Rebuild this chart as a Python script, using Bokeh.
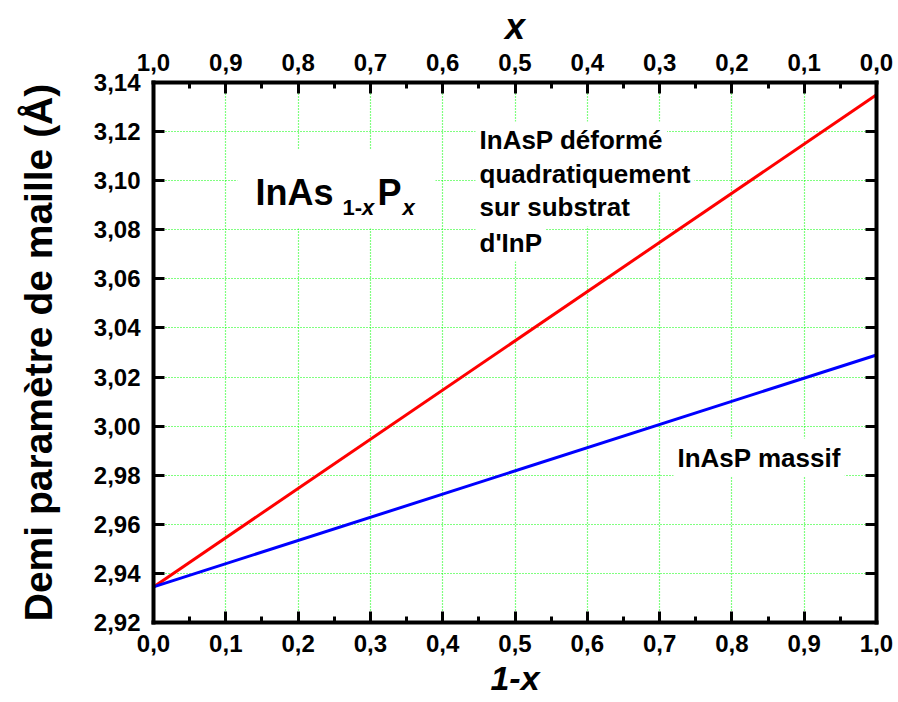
from bokeh.plotting import figure
from bokeh.models import Range1d, LinearAxis, FixedTicker, Label, BoxAnnotation
from bokeh.embed import file_html
from bokeh.resources import INLINE

# ---------------- data ----------------
one_minus_x = [0.0, 1.0]
a_strained = [2.9345, 3.1350]   # InAsP déformé quadratiquement sur substrat d'InP
a_bulk = [2.9345, 3.0290]       # InAsP massif

x_ticks = [0.0, 0.1, 0.2, 0.3, 0.4, 0.5, 0.6, 0.7, 0.8, 0.9, 1.0]
x_minor_ticks = [0.05, 0.15, 0.25, 0.35, 0.45, 0.55, 0.65, 0.75, 0.85, 0.95]
x_tick_labels = ["0,0", "0,1", "0,2", "0,3", "0,4", "0,5", "0,6", "0,7", "0,8", "0,9", "1,0"]
y_ticks = [2.92, 2.94, 2.96, 2.98, 3.00, 3.02, 3.04, 3.06, 3.08, 3.10, 3.12, 3.14]
y_tick_labels = ["2,92", "2,94", "2,96", "2,98", "3,00", "3,02", "3,04", "3,06", "3,08", "3,10", "3,12", "3,14"]

FONT = "Liberation Sans"
GRID_COLOR = "#00FF00"

p = figure(width=898, height=702,
           x_range=Range1d(0, 1), y_range=Range1d(2.92, 3.14),
           output_backend="svg", toolbar_location=None,
           min_border_left=153, min_border_right=22,
           min_border_top=82, min_border_bottom=80)
p.outline_line_color = None
p.background_fill_color = "white"
p.border_fill_color = "white"

x_over = {t: s for t, s in zip(x_ticks, x_tick_labels)}
y_over = {t: s for t, s in zip(y_ticks, y_tick_labels)}


def style_axis(ax):
    ax.axis_line_width = 4
    ax.axis_line_color = "black"
    ax.axis_line_cap = "square"
    ax.major_tick_line_width = 3
    ax.minor_tick_line_width = 3
    ax.major_tick_in = 11
    ax.major_tick_out = 0
    ax.minor_tick_in = 0
    ax.minor_tick_out = 0
    ax.major_label_text_font = FONT
    ax.major_label_text_font_style = "bold"
    ax.major_label_text_font_size = "24px"
    ax.major_label_text_color = "black"
    ax.axis_label_text_font = FONT
    ax.axis_label_text_color = "black"


# bottom axis (1-x)
bx = p.xaxis[0]
bx.ticker = FixedTicker(ticks=x_ticks, minor_ticks=x_minor_ticks)
bx.major_label_overrides = x_over
style_axis(bx)
bx.minor_tick_in = 6
bx.major_label_standoff = 12
bx.axis_label = "1-x"
bx.axis_label_text_font_size = "34px"
bx.axis_label_text_font_style = "bold italic"
bx.axis_label_standoff = 4

# left axis
ly = p.yaxis[0]
ly.ticker = FixedTicker(ticks=y_ticks)
ly.major_label_overrides = y_over
style_axis(ly)
ly.major_label_standoff = 13
ly.axis_label = "Demi paramètre de maille (Å)"
ly.axis_label_text_font_size = "39px"
ly.axis_label_text_font_style = "bold"
ly.axis_label_standoff = 31

# top axis (x) -- reversed range
p.extra_x_ranges = {"top": Range1d(1, 0)}
tx = LinearAxis(x_range_name="top",
                ticker=FixedTicker(ticks=x_ticks, minor_ticks=x_minor_ticks))
tx.major_label_overrides = x_over
style_axis(tx)
tx.minor_tick_in = 6
tx.major_label_standoff = 12
tx.axis_label = "x"
tx.axis_label_text_font_size = "36px"
tx.axis_label_text_font_style = "bold italic"
tx.axis_label_standoff = 4
p.add_layout(tx, "above")

# right axis (ticks only)
ry = LinearAxis(ticker=FixedTicker(ticks=y_ticks))
style_axis(ry)
ry.major_label_overrides = {t: "" for t in y_ticks}
ry.major_label_text_font_size = "0px"
ry.major_label_standoff = 0
p.add_layout(ry, "right")

# grids
p.xgrid.ticker = FixedTicker(ticks=x_ticks)
p.ygrid.ticker = FixedTicker(ticks=y_ticks)
for g in (p.xgrid[0], p.ygrid[0]):
    g.grid_line_color = GRID_COLOR
    g.grid_line_dash = "1 2"
    g.grid_line_width = 1.2

# lines
p.line(one_minus_x, a_strained, line_color="#FF0000", line_width=3)
p.line(one_minus_x, a_bulk, line_color="#0000FF", line_width=3)

# white mask behind the compound formula
p.add_layout(BoxAnnotation(left=0.116, right=0.39, top=3.1125, bottom=3.0805,
                           fill_color="white", fill_alpha=1.0, line_color=None))


def lab(x, y, text, size, style="bold", bg=False, align="left", **kw):
    L = Label(x=x, y=y, text=text, text_font=FONT, text_font_size=size,
              text_font_style=style, text_color="black", text_align=align,
              text_baseline="alphabetic", **kw)
    if bg:
        L.background_fill_color = "white"
        L.padding = 4
    p.add_layout(L)
    return L


# compound formula InAs(1-x)P(x)
lab(0.141, 3.0952, "InAs", "36px")
lab(0.2614, 3.0891, "1-", "22px")
lab(0.2885, 3.0891, "x", "22px", style="bold italic")
lab(0.3098, 3.0952, "P", "36px")
lab(0.3444, 3.0891, "x", "22px", style="bold italic")

# curve annotations
lab(0.4454, 3.1164, "InAsP déformé", "26px", bg=True)
lab(0.4454, 3.1029, "quadratiquement", "26px", bg=True)
lab(0.4454, 3.0891, "sur substrat", "26px", bg=True)
lab(0.4454, 3.0748, "d'InP", "26px", bg=True)
lab(0.7192, 2.9872, "InAsP massif", "26px", bg=True)

open("out.html", "w").write(file_html(p, INLINE))
